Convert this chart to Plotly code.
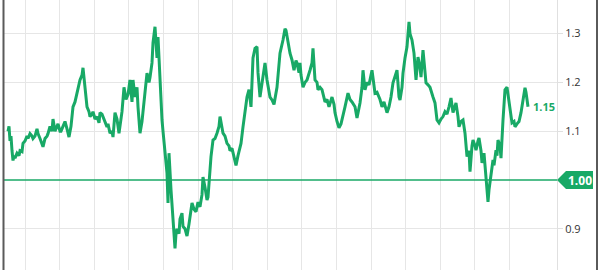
import plotly.graph_objects as go

# time index (sample position) and price ratio
t_index = [8, 9, 10, 11, 12, 13, 14, 15, 17, 19, 20, 22, 23, 25, 27, 28, 30, 32, 33, 35, 37, 38, 40, 42, 43, 45, 47, 48, 50, 52,
           53, 55, 57, 58, 60, 61, 63, 65, 67, 69, 71, 73, 75, 77, 79, 80, 82, 83, 84, 85, 87, 89, 90, 92, 93, 95, 97, 99, 100, 102,
           103, 105, 107, 108, 110, 112, 113, 115, 117, 119, 121, 122, 124, 126, 128, 130, 132, 133, 135, 137, 138, 140, 142, 143, 145, 147, 149, 150, 152, 153,
           155, 156, 157, 158, 160, 162, 163, 165, 167, 168, 169, 171, 173, 175, 176, 177, 179, 180, 182, 183, 185, 187, 189, 190, 192, 194, 196, 198, 200, 202,
           203, 205, 207, 208, 210, 211, 213, 215, 217, 219, 220, 222, 223, 225, 227, 229, 230, 232, 234, 236, 238, 240, 241, 243, 245, 247, 249, 251, 253, 255,
           257, 258, 260, 262, 264, 265, 267, 269, 270, 272, 274, 277, 280, 283, 285, 286, 288, 290, 292, 294, 296, 297, 299, 300, 301, 303, 305, 307, 310, 312,
           313, 315, 317, 318, 320, 322, 325, 327, 329, 332, 334, 335, 337, 339, 341, 343, 345, 348, 350, 352, 355, 357, 360, 362, 363, 365, 367, 369, 372, 375,
           377, 380, 382, 384, 387, 389, 391, 393, 395, 397, 399, 400, 402, 403, 405, 407, 409, 410, 412, 414, 416, 418, 420, 421, 423, 424, 426, 428, 430, 433,
           435, 437, 439, 441, 443, 445, 447, 449, 451, 453, 456, 458, 459, 461, 463, 465, 467, 469, 470, 472, 473, 475, 476, 478, 479, 481, 482, 484, 486, 488,
           489, 491, 493, 494, 496, 497, 498, 500, 501, 503, 505, 507, 509, 511, 512, 514, 515, 517, 519, 521, 523, 525, 526, 527, 528]
ratio = [1.10, 1.11, 1.08, 1.09, 1.06, 1.04, 1.05, 1.045, 1.055, 1.05, 1.06, 1.058, 1.075, 1.08, 1.09, 1.085, 1.095, 1.09, 1.085, 1.09, 1.105, 1.095, 1.085, 1.07, 1.068, 1.085, 1.09, 1.095, 1.11, 1.10,
         1.125, 1.10, 1.11, 1.115, 1.10, 1.10, 1.11, 1.12, 1.105, 1.088, 1.11, 1.15, 1.16, 1.178, 1.19, 1.205, 1.215, 1.23, 1.21, 1.185, 1.15, 1.14, 1.13, 1.135, 1.14, 1.125, 1.13, 1.117, 1.138, 1.135,
         1.13, 1.12, 1.109, 1.115, 1.096, 1.10, 1.088, 1.138, 1.125, 1.096, 1.12, 1.14, 1.19, 1.165, 1.175, 1.205, 1.16, 1.205, 1.17, 1.19, 1.15, 1.096, 1.12, 1.14, 1.18, 1.219, 1.20, 1.21, 1.24, 1.281,
         1.314, 1.27, 1.25, 1.293, 1.19, 1.123, 1.10, 1.055, 1.014, 0.953, 1.055, 0.98, 0.918, 0.86, 0.89, 0.90, 0.89, 0.92, 0.932, 0.905, 0.90, 0.885, 0.91, 0.925, 0.953, 0.94, 0.935, 0.955, 0.945, 0.97,
         1.006, 0.985, 0.959, 0.965, 1.027, 1.048, 1.082, 1.085, 1.096, 1.11, 1.13, 1.11, 1.096, 1.09, 1.075, 1.07, 1.06, 1.065, 1.05, 1.03, 1.05, 1.07, 1.075, 1.109, 1.14, 1.17, 1.185, 1.15, 1.25, 1.27,
         1.273, 1.22, 1.17, 1.199, 1.22, 1.24, 1.205, 1.178, 1.17, 1.164, 1.155, 1.19, 1.26, 1.287, 1.31, 1.307, 1.281, 1.26, 1.246, 1.225, 1.245, 1.24, 1.22, 1.24, 1.215, 1.19, 1.20, 1.205, 1.225, 1.24,
         1.27, 1.205, 1.20, 1.185, 1.19, 1.185, 1.16, 1.165, 1.15, 1.17, 1.155, 1.138, 1.12, 1.107, 1.115, 1.13, 1.15, 1.178, 1.165, 1.16, 1.15, 1.127, 1.158, 1.19, 1.225, 1.185, 1.20, 1.195, 1.225, 1.178,
         1.18, 1.165, 1.15, 1.16, 1.138, 1.15, 1.17, 1.199, 1.21, 1.225, 1.17, 1.164, 1.19, 1.219, 1.25, 1.273, 1.324, 1.30, 1.287, 1.26, 1.205, 1.252, 1.23, 1.211, 1.266, 1.24, 1.199, 1.195, 1.19, 1.17,
         1.158, 1.123, 1.117, 1.125, 1.13, 1.14, 1.135, 1.15, 1.168, 1.138, 1.158, 1.13, 1.109, 1.12, 1.123, 1.096, 1.048, 1.06, 1.017, 1.07, 1.082, 1.07, 1.061, 1.08, 1.086, 1.06, 1.035, 1.055, 1.006, 0.955,
         0.98, 1.006, 1.041, 1.03, 1.061, 1.05, 1.082, 1.07, 1.045, 1.123, 1.185, 1.19, 1.158, 1.13, 1.117, 1.12, 1.109, 1.115, 1.12, 1.138, 1.164, 1.189, 1.18, 1.164, 1.15]

baseline_value = 1.00
last_label = "1.15"
y_ticks = [0.9, 1.1, 1.2, 1.3]
y_tick_text = ["0.9", "1.1", "1.2", "1.3"]

GREEN = "#18a966"
W, H = 604, 270
ML, MR = 4, 47
Y_RANGE = [0.8156, 1.3689]
X_RANGE = [4, 557]

fig = go.Figure()
fig.add_trace(go.Scatter(x=t_index, y=ratio, mode="lines",
                         line=dict(color=GREEN, width=3), hoverinfo="skip", showlegend=False))

fig.add_hline(y=baseline_value, line=dict(color=GREEN, width=1.5))


def px_to_paper_x(px):
    return (px - ML) / (W - ML - MR)


def val_to_paper_y(v):
    return (v - Y_RANGE[0]) / (Y_RANGE[1] - Y_RANGE[0])


# 1.00 label with arrow
yb = val_to_paper_y(baseline_value)
hh = 9 / H
x_tip = px_to_paper_x(557)
x_box = px_to_paper_x(566)
x_end = px_to_paper_x(593)
fig.add_shape(type="path", xref="paper", yref="paper",
              path=f"M {x_tip} {yb} L {x_box} {yb+hh} L {x_end} {yb+hh} L {x_end} {yb-hh} L {x_box} {yb-hh} Z",
              fillcolor=GREEN, line=dict(width=0), layer="above")
fig.add_annotation(x=(x_box + x_end) / 2, y=yb, xref="paper", yref="paper", text="<b>%.2f</b>" % baseline_value,
                   showarrow=False, font=dict(color="white", size=12, family="Open Sans"), xanchor="center", yanchor="middle")

# last value label
fig.add_annotation(x=t_index[-1], y=float(last_label), text="<b>" + last_label + "</b>", showarrow=False,
                   xanchor="left", yanchor="middle", xshift=3, font=dict(color=GREEN, size=11, family="Open Sans"))

# container borders
for px in (3.5, 597):
    xp = px_to_paper_x(px)
    fig.add_shape(type="rect", xref="paper", yref="paper", x0=xp - 1 / 553, x1=xp + 1 / 553, y0=0, y1=1,
                  fillcolor="#5a5a5a", line=dict(width=0), layer="above")

fig.update_layout(
    width=W, height=H, margin=dict(l=ML, r=MR, t=0, b=0),
    paper_bgcolor="white", plot_bgcolor="white", showlegend=False,
    xaxis=dict(range=X_RANGE, tickmode="array", tickvals=[25 + 34.6 * k for k in range(15)],
               showticklabels=False, showgrid=True, gridcolor="#e6e6e6", gridwidth=1,
               zeroline=False, showline=False, ticks=""),
    yaxis=dict(range=Y_RANGE, side="right", tickmode="array", tickvals=y_ticks, ticktext=y_tick_text,
               showgrid=True, gridcolor="#e6e6e6", gridwidth=1, zeroline=False,
               showline=True, linecolor="#e0e0e0", linewidth=1, ticks="outside", ticklen=5, tickcolor="#e0e0e0",
               tickfont=dict(size=11, color="#333", family="Open Sans")),
)

fig.write_html("out.html")
